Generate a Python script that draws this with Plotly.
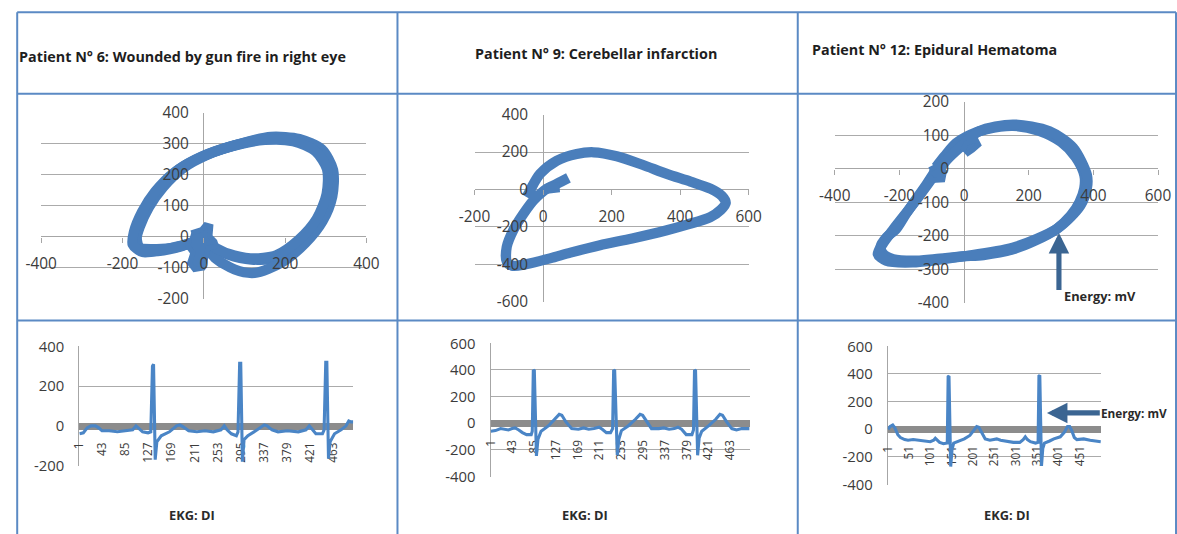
import plotly.graph_objects as go

# Layout helpers: every position below is given in final-picture pixels and
# converted to figure fractions with a measured scale/offset of the viewer.
SX, SY = 0.975, 0.967
OX, OY = 14.8, 9.7
W, H = 1193, 543

# ---------------- titles ----------------
TITLES = [
    "Patient N° 6: Wounded by gun fire in right eye",
    "Patient N° 9: Cerebellar infarction",
    "Patient N° 12: Epidural Hematoma",
]
EKG_TITLE = "EKG: DI"
ENERGY_LABEL = "Energy: mV"

# ---------------- vectorcardiographic loops (None separates successive beats) ----------------
# Patient 6
P6_LOOP_X = [0, -20, -55, -113, -154, -170, -166, -146, -113, -64, -6, 76, 158, 224, 281, 310, 310, 285, 240, 183, 117, 60, 18, 0, None,
             0, -30, -70, -120, -158, -165, -158, -135, -100, -50, 10, 90, 165, 235, 290, 318, 316, 292, 250, 191, 125, 76, 27, 7, None,
             0, -40, -100, -150, -175, -172, -152, -120, -72, -15, 65, 150, 220, 275, 303, 302, 278, 232, 178, 115, 60, 20]
P6_LOOP_Y = [-10, -15, -31, -47, -45, -15, 22, 87, 151, 215, 258, 295, 317, 312, 279, 220, 140, 55, -20, -68, -74, -58, -31, -10, None,
             -15, -20, -35, -40, -35, -5, 30, 95, 160, 222, 265, 300, 322, 315, 282, 215, 130, 50, -20, -84, -117, -106, -68, -31, None,
             -20, -25, -42, -50, -25, 15, 80, 145, 208, 252, 290, 312, 308, 275, 218, 138, 58, -12, -60, -70, -55, -30]
# dense cluster of points around the origin (isoelectric segment)
P6_CORE_X = [-31, -18, -6, 4, 17, 15, 27, 31, 10, 6, -2, -23, -35, -27, -39, -35]
P6_CORE_Y = [12, 17, 22, 38, 33, 1, -15, -31, -37, -63, -101, -106, -85, -53, -31, -5]

# Patient 9
P9_LOOP_X = [-48, -40, -33, -9, 40, 98, 147, 215, 290, 361, 430, 488, 522, 533, 518, 488, 420, 361, 260, 166,
             80, 20, -50, -90, -106, -106, -87, -57, -28, -5, 11, 40, 74]
P9_LOOP_Y = [-41, -15, 12, 83, 154, 190, 199, 178, 132, 83, 42, 4, -35, -72, -110, -148, -188, -218, -262, -298,
             -338, -369, -400, -408, -385, -307, -218, -129, -58, -18, 4, 30, 62]
P9_HOOK_X = [11, 30, 48]
P9_HOOK_Y = [4, 8, 12]

# Patient 12
P12_LOOP_X = [-87, -60, -25, 20, 70, 151, 230, 300, 345, 372, 372, 357, 330, 285, 220, 151, 60, -4, -90, -159, -220, -252, -258,
              -240, -211, -180, -149, -115, -87, None,
              -80, -50, -10, 47, 151, 264, 337, 380, 380, 360, 290, 151, -4, -159, -241, -267, -252, -221, -149, -100, -70]
P12_LOOP_Y = [5, 38, 76, 102, 118, 128, 114, 80, 35, -19, -58, -100, -140, -181, -215, -241, -258, -262, -270, -275, -270,
              -252, -232, -205, -181, -135, -92, -45, -3, None,
              -5, 30, 66, 112, 132, 112, 63, -19, -58, -110, -178, -236, -262, -280, -275, -255, -225, -184, -95, -30, 5]
P12_CORE_X = [-4, 6, 37, 45, 27, 6, None, -107, -77, -61, -66, -97, -109]
P12_CORE_Y = [52, 76, 86, 71, 56, 42, None, -3, 12, -8, -33, -35, -21]

# ---------------- EKG lead DI (sample number, mV) ----------------
P6_EKG_N = [1, 8, 15, 22, 30, 36, 42, 55, 70, 85, 98, 104, 110, 116, 126, 131, 134, 136, 139, 142, 150, 165, 178, 184, 190,
            200, 215, 230, 245, 259, 265, 270, 278, 287, 290, 293, 295, 298, 301, 308, 325, 338, 343, 352, 363, 380, 400,
            414, 420, 426, 432, 444, 447, 450, 452, 455, 458, 466, 478, 487, 492, 496, 500]
P6_EKG_MV = [-40, -35, -10, 0, 0, -10, -25, -25, -30, -25, -20, 0, -15, -30, -35, -30, 300, 310, -170, -80, -50, -30, 0, 5, -5,
             -25, -30, -25, -30, -20, 0, -20, -40, -50, -30, 315, 315, -180, -70, -50, -20, 5, 0, -20, -30, -25, -30,
             -20, 0, -20, -40, -40, -20, 320, 320, -165, -80, -40, -20, 0, 25, 20, 20]

P9_EKG_N = [1, 10, 20, 28, 35, 42, 48, 55, 62, 70, 79, 81, 83, 85, 89, 92, 98, 112, 125, 133, 138, 146, 157, 170, 180, 190,
            200, 210, 216, 224, 232, 236, 238, 240, 245, 248, 253, 266, 280, 289, 294, 302, 311, 325, 335, 345, 355, 362,
            369, 378, 389, 392, 394, 396, 400, 403, 408, 421, 435, 443, 448, 456, 466, 475, 485, 500]
P9_EKG_MV = [-60, -55, -40, -45, -50, -40, -35, -50, -70, -85, -85, -60, 400, 395, -245, -120, -60, -20, 30, 67, 60, 10, -40,
             -45, -35, -45, -40, -30, -45, -70, -70, -40, 400, 395, -240, -120, -55, -20, 30, 67, 60, 10, -40, -40, -35,
             -45, -40, -30, -45, -85, -85, -50, 400, 395, -240, -110, -60, -20, 30, 67, 60, 10, -40, -50, -40, -40]

P12_EKG_N = [1, 6, 12, 17, 24, 30, 40, 48, 60, 72, 85, 100, 108, 112, 117, 122, 131, 140, 142, 144, 148, 151, 155, 170, 180,
             193, 203, 209, 214, 222, 229, 240, 256, 265, 280, 295, 310, 318, 323, 328, 335, 347, 353, 355, 357, 361, 364,
             368, 380, 390, 405, 415, 422, 427, 432, 438, 444, 460, 475, 490, 500]
P12_EKG_MV = [0, 20, 30, 10, -40, -60, -75, -80, -75, -80, -85, -90, -80, -65, -80, -95, -105, -100, 380, 385, -270, -150,
              -100, -80, -70, -45, 0, 20, 15, -30, -70, -80, -70, -80, -90, -95, -95, -75, -55, -75, -90, -100, -95, 385,
              390, -265, -140, -100, -85, -70, -55, -20, 20, 20, -10, -60, -75, -70, -80, -85, -90]

# ---------------- axis ticks ----------------
LOOP_XTICKS = [[-400, -200, 0, 200, 400], [-200, 0, 200, 400, 600], [-400, -200, 0, 200, 400, 600]]
LOOP_YTICKS = [[-200, -100, 0, 100, 200, 300, 400], [-600, -400, -200, 0, 200, 400], [-400, -300, -200, -100, 0, 100, 200]]
EKG_YTICKS = [[-200, 0, 200, 400], [-400, -200, 0, 200, 400, 600], [-400, -200, 0, 200, 400, 600]]
EKG_XTICKS = [list(range(1, 500, 42)), list(range(1, 500, 42)), list(range(1, 500, 50))]

# ---------------- styling ----------------
LOOP_BLUE = "#4a7ebb"
EKG_BLUE = "#4a85c6"
BORDER = "#5b8ac4"
GRID = "#ababab"
AXIS = "#a6a6a6"
TXT = "#3c3c3c"
FONT = "Open Sans"
ARROW = "#3b6592"
K = 1 / SX  # size compensation

# plot-area boxes in picture pixels: (left, top, right, bottom)
LOOP_BOX = [(40, 112, 365, 299), (473, 114, 747, 302), (833, 101, 1156, 303)]
LOOP_RANGE_X = [(-400, 400), (-200, 600), (-400, 600)]
LOOP_RANGE_Y = [(-200, 400), (-600, 400), (-400, 200)]
EKG_BOX = [(78, 347, 352, 467), (489, 344, 748, 478), (886, 347, 1099, 486)]
EKG_RANGE_Y = [(-200, 400), (-400, 600), (-400, 600)]
N_SAMPLES = 500


def fx(px):
    return ((px - OX) / SX) / W


def fy(py):
    return 1 - ((py - OY) / SY) / H


def xdom(box):
    return [fx(box[0]), fx(box[2])]


def ydom(box):
    return [fy(box[3]), fy(box[1])]


fig = go.Figure()
layout = {}

loops = [(P6_LOOP_X, P6_LOOP_Y), (P9_LOOP_X, P9_LOOP_Y), (P12_LOOP_X, P12_LOOP_Y)]
cores = [(P6_CORE_X, P6_CORE_Y, True), (P9_HOOK_X, P9_HOOK_Y, False), (P12_CORE_X, P12_CORE_Y, True)]
for i, (lx, ly) in enumerate(loops):
    k = i + 1
    fig.add_trace(go.Scatter(x=lx, y=ly, mode="lines", xaxis=f"x{k}", yaxis=f"y{k}",
                             line=dict(color=LOOP_BLUE, width=10 * K, shape="spline", smoothing=0.8),
                             connectgaps=False, showlegend=False, hoverinfo="skip"))
    cx, cy, filled = cores[i]
    fig.add_trace(go.Scatter(x=cx, y=cy, mode="lines", xaxis=f"x{k}", yaxis=f"y{k}",
                             fill="toself" if filled else None, fillcolor=LOOP_BLUE,
                             line=dict(color=LOOP_BLUE, width=(5 if filled else 10) * K),
                             showlegend=False, hoverinfo="skip"))
    xd, yd = xdom(LOOP_BOX[i]), ydom(LOOP_BOX[i])
    xr, yr = LOOP_RANGE_X[i], LOOP_RANGE_Y[i]
    xpos = yd[0] + (0 - yr[0]) / (yr[1] - yr[0]) * (yd[1] - yd[0])
    ypos = xd[0] + (0 - xr[0]) / (xr[1] - xr[0]) * (xd[1] - xd[0])
    # crossing axes are drawn as zero lines (under the loop); the labels sit above it
    layout[f"xaxis{k}"] = dict(domain=xd, range=list(xr), anchor="free", position=xpos,
                               tickvals=LOOP_XTICKS[i], ticktext=[str(v) for v in LOOP_XTICKS[i]],
                               showgrid=False, zeroline=True, zerolinecolor=AXIS, zerolinewidth=1,
                               showline=False, ticks="outside", ticklen=5, tickcolor=AXIS, ticklabelstandoff=8,
                               tickfont=dict(family=FONT, size=15 * K, color=TXT), layer="above traces",
                               fixedrange=True)
    layout[f"yaxis{k}"] = dict(domain=yd, range=list(yr), anchor="free", position=ypos,
                               tickvals=LOOP_YTICKS[i], ticktext=[str(v) for v in LOOP_YTICKS[i]],
                               showgrid=True, gridcolor=GRID, gridwidth=1,
                               zeroline=True, zerolinecolor=AXIS, zerolinewidth=1,
                               showline=False, ticks="", ticklabelstandoff=15,
                               tickfont=dict(family=FONT, size=15 * K, color=TXT), layer="above traces",
                               fixedrange=True)

ekgs = [(P6_EKG_N, P6_EKG_MV), (P9_EKG_N, P9_EKG_MV), (P12_EKG_N, P12_EKG_MV)]
for i, (n, mv) in enumerate(ekgs):
    k = i + 4
    fig.add_trace(go.Scatter(x=n, y=mv, mode="lines", xaxis=f"x{k}", yaxis=f"y{k}",
                             line=dict(color=EKG_BLUE, width=3 * K),
                             showlegend=False, hoverinfo="skip"))
    xd, yd = xdom(EKG_BOX[i]), ydom(EKG_BOX[i])
    yr = EKG_RANGE_Y[i]
    xpos = yd[0] + (0 - yr[0]) / (yr[1] - yr[0]) * (yd[1] - yd[0])
    layout[f"xaxis{k}"] = dict(domain=xd, range=[0.5, N_SAMPLES + 0.5], anchor="free", position=xpos,
                               tickvals=EKG_XTICKS[i], ticktext=[str(v) for v in EKG_XTICKS[i]],
                               tickangle=-90, showgrid=False, zeroline=False,
                               showline=True, linecolor="#8c8c8c", linewidth=7, ticks="", ticklabelstandoff=8,
                               tickfont=dict(family=FONT, size=11.5 * K, color=TXT), layer="below traces",
                               fixedrange=True)
    layout[f"yaxis{k}"] = dict(domain=yd, range=list(yr), anchor=f"x{k}",
                               tickvals=EKG_YTICKS[i], ticktext=[str(v) for v in EKG_YTICKS[i]],
                               showgrid=True, gridcolor=GRID, gridwidth=1, zeroline=False,
                               showline=True, linecolor=AXIS, linewidth=1, ticks="", ticklabelstandoff=11,
                               tickfont=dict(family=FONT, size=14.5 * K, color=TXT), layer="below traces",
                               fixedrange=True)

# ---------------- table grid ----------------
COL_EDGES = [16, 396, 796, 1174]
ROW_EDGES = [11, 93, 321, 545]
shapes = []
for x in COL_EDGES:
    shapes.append(dict(type="line", xref="paper", yref="paper", x0=fx(x), x1=fx(x),
                       y0=fy(ROW_EDGES[0]), y1=fy(ROW_EDGES[-1]),
                       line=dict(color=BORDER, width=2)))
for y in ROW_EDGES[:-1]:
    shapes.append(dict(type="line", xref="paper", yref="paper", x0=fx(COL_EDGES[0]), x1=fx(COL_EDGES[-1]),
                       y0=fy(y), y1=fy(y), line=dict(color=BORDER, width=2)))

# ---------------- text ----------------
annotations = []
title_pos = [(16, 55, "left"), (594, 52, "center"), (808, 48, "left")]
for t, (x, y, al) in zip(TITLES, title_pos):
    annotations.append(dict(text=f"<b>{t}</b>", xref="paper", yref="paper", x=fx(x), y=fy(y),
                            xanchor=al, yanchor="middle", showarrow=False,
                            font=dict(family=FONT, size=14 * K, color="#1e1e1e")))
for cx in (191, 583, 1005):
    annotations.append(dict(text=f"<b>{EKG_TITLE}</b>", xref="paper", yref="paper", x=fx(cx), y=fy(517),
                            xanchor="center", yanchor="middle", showarrow=False,
                            font=dict(family=FONT, size=12.5 * K, color="#2a2a2a")))

# energy markers
annotations.append(dict(text="", xref="paper", yref="paper", x=fx(1057), y=fy(233),
                        axref="pixel", ayref="pixel", ax=0, ay=57 * K, showarrow=True,
                        arrowhead=2, arrowsize=0.8, arrowwidth=5 * K, arrowcolor=ARROW))
annotations.append(dict(text=f"<b>{ENERGY_LABEL}</b>", xref="paper", yref="paper", x=fx(1060), y=fy(296),
                        xanchor="left", yanchor="middle", showarrow=False,
                        font=dict(family=FONT, size=12.5 * K, color="#2a2a2a")))
annotations.append(dict(text="", xref="paper", yref="paper", x=fx(1045), y=fy(414),
                        axref="pixel", ayref="pixel", ax=53 * K, ay=0, showarrow=True,
                        arrowhead=2, arrowsize=0.8, arrowwidth=5 * K, arrowcolor=ARROW))
annotations.append(dict(text=f"<b>{ENERGY_LABEL}</b>", xref="paper", yref="paper", x=fx(1097), y=fy(414),
                        xanchor="left", yanchor="middle", showarrow=False,
                        font=dict(family=FONT, size=11.5 * K, color="#2a2a2a")))

fig.update_layout(width=W, height=H, margin=dict(l=0, r=0, t=0, b=0),
                  paper_bgcolor="white", plot_bgcolor="white",
                  shapes=shapes, annotations=annotations, showlegend=False, **layout)

fig.write_html("out.html", config={"displayModeBar": False})
